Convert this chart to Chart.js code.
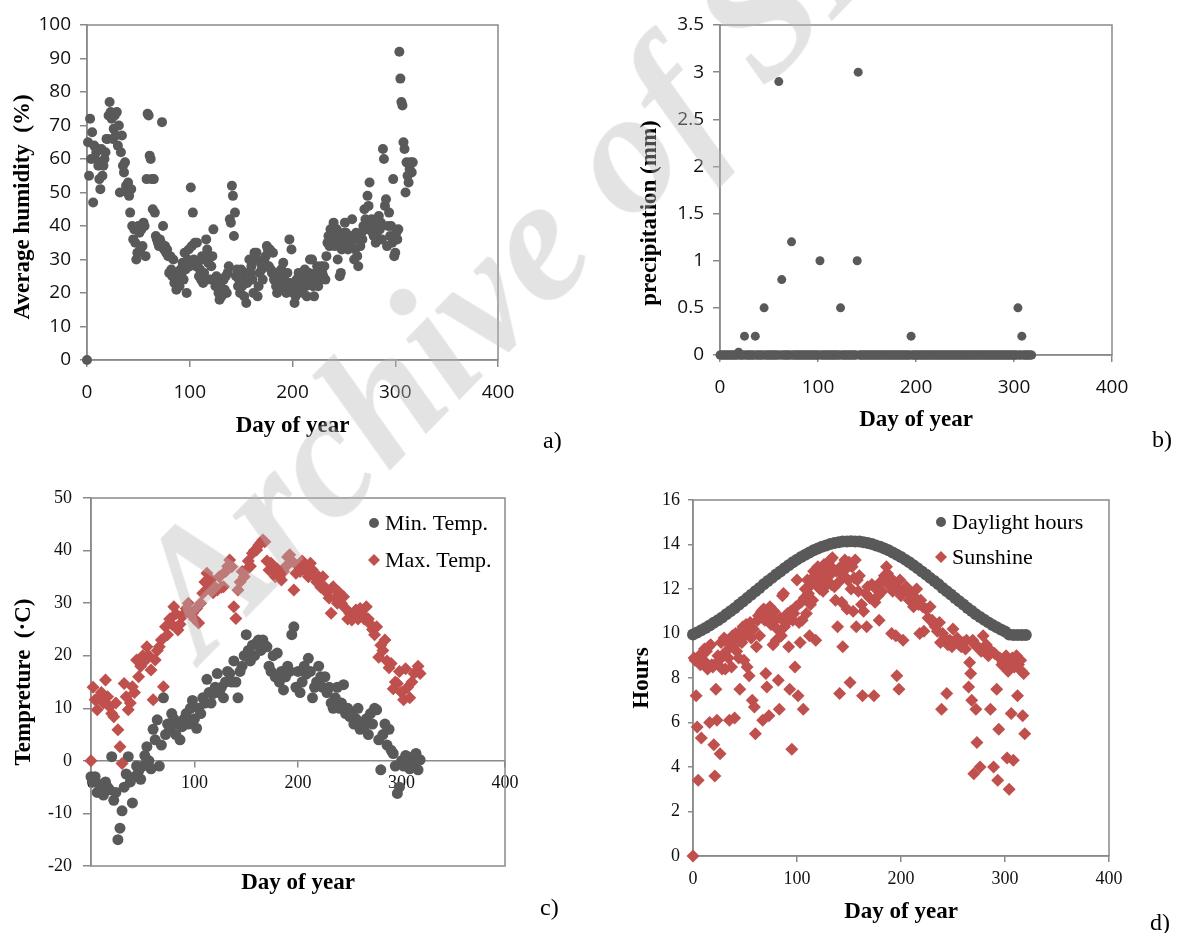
<!DOCTYPE html>
<html>
<head>
<meta charset="utf-8">
<script src="https://cdn.jsdelivr.net/npm/chart.js@4.4.0/dist/chart.umd.min.js"></script>
<style>
  body { margin: 0; background: #fff; width: 1177px; height: 933px; position: relative; overflow: hidden; }
  canvas { position: absolute; }
  .tag { position: absolute; font: 24px "Liberation Serif", serif; line-height: 1; color: #000; }
  #wm { position: absolute; left: 203px; top: 662px; font: italic bold 176px "Liberation Serif", serif; line-height: 1;
        color: rgba(185, 185, 185, 0.4); white-space: nowrap; transform-origin: 0 0;
        transform: rotate(-45.5deg) translateY(-0.84em); pointer-events: none; }
</style>
</head>
<body>
<canvas id="ca" width="560" height="445" style="left:0;top:0"></canvas>
<canvas id="cb" width="560" height="440" style="left:600px;top:0"></canvas>
<canvas id="cc" width="560" height="440" style="left:0;top:470px"></canvas>
<canvas id="cd" width="557" height="463" style="left:620px;top:470px"></canvas>
<div class="tag" style="left:543px;top:428px">a)</div>
<div class="tag" style="left:1152px;top:427px">b)</div>
<div class="tag" style="left:540px;top:895px">c)</div>
<div class="tag" style="left:1150px;top:910px">d)</div>
<div id="wm">Archive of SID</div>
<script>
// a) average humidity, one reading per day from day 0
const humidity = [
  0, 65, 55, 72, 60, 68, 47, 64, 60, 62,
  63, 58, 54, 51, 63, 55, 58, 60, 62, 66,
  66, 73, 77, 74, 72, 66, 69, 73, 67, 74,
  64, 70, 50, 62, 67, 58, 56, 59, 52, 50,
  53, 49, 44, 51, 40, 36, 39, 35, 30, 32,
  40, 38, 33, 39, 34, 41, 40, 31, 54, 73.5,
  73, 61, 60, 54, 45, 54, 44, 37, 36, 35,
  34, 36, 35, 71, 40, 33, 34, 32, 33, 31,
  26, 31, 27, 25, 30, 23, 25, 21, 24, 26,
  22, 27, 25, 29, 24, 32, 27, 20, 30, 33,
  28, 51.5, 34, 44, 30, 35, 28, 35, 29, 25,
  27, 24, 31, 23, 26, 30, 36, 33, 29, 31,
  24, 28, 31, 39, 24, 22, 25, 22, 20, 18,
  23, 19, 21, 24, 21, 25, 20, 26, 28, 42,
  41, 52, 49, 37, 44, 25, 27, 22, 24, 20,
  27, 22, 24, 19, 26, 17, 23, 25, 30, 26,
  28, 24, 20, 32, 30, 32, 19, 22, 26, 29,
  27, 24, 30, 29, 31, 34, 33, 28, 33, 27,
  26, 32, 24, 26, 22, 20, 21, 25, 23, 27,
  21, 29, 24, 21, 20, 26, 23, 36, 23, 33,
  21, 20, 17, 19, 24, 22, 26, 21, 22, 25,
  20, 24, 27, 22, 19, 23, 26, 30, 25, 30,
  22, 19, 24, 26, 28, 22, 26, 24, 28, 26,
  25, 28, 24, 31, 35, 37, 34, 39, 36, 38,
  41, 34, 37, 39, 30, 36, 25, 26, 33, 35,
  38, 41, 38, 36, 33, 35, 37, 34, 42, 36,
  30, 33, 38, 31, 28, 36, 34, 38, 36, 40,
  45, 42, 39, 49, 46, 53, 40, 42, 38, 37,
  41, 35, 38, 40, 43, 39, 41, 36, 63, 60,
  46, 48, 34, 40, 44, 37, 40, 35, 54, 31,
  32, 38, 36, 39, 92, 84, 77, 76, 65, 63,
  50, 59, 55, 53, 57, 59, 56, 59
];

// b) precipitation (mm), one reading per day from day 0
const precip = [
  0, 0, 0, 0, 0, 0, 0, 0, 0, 0, 0, 0, 0, 0, 0, 0, 0, 0, 0, 0.03,
  0, 0, 0, 0, 0, 0.2, 0, 0, 0, 0, 0, 0, 0, 0, 0, 0, 0.2, 0, 0, 0,
  0, 0, 0, 0, 0, 0.5, 0, 0, 0, 0, 0, 0, 0, 0, 0, 0, 0, 0, 0, 0,
  2.9, 0, 0, 0.8, 0, 0, 0, 0, 0, 0, 0, 0, 0, 1.2, 0, 0, 0, 0, 0, 0,
  0, 0, 0, 0, 0, 0, 0, 0, 0, 0, 0, 0, 0, 0, 0, 0, 0, 0, 0, 0,
  0, 0, 1.0, 0, 0, 0, 0, 0, 0, 0, 0, 0, 0, 0, 0, 0, 0, 0, 0, 0,
  0, 0, 0, 0.5, 0, 0, 0, 0, 0, 0, 0, 0, 0, 0, 0, 0, 0, 0, 0, 0,
  1.0, 3.0, 0, 0, 0, 0, 0, 0, 0, 0, 0, 0, 0, 0, 0, 0, 0, 0, 0, 0,
  0, 0, 0, 0, 0, 0, 0, 0, 0, 0, 0, 0, 0, 0, 0, 0, 0, 0, 0, 0,
  0, 0, 0, 0, 0, 0, 0, 0, 0, 0, 0, 0, 0, 0, 0, 0.2, 0, 0, 0, 0,
  0, 0, 0, 0, 0, 0, 0, 0, 0, 0, 0, 0, 0, 0, 0, 0, 0, 0, 0, 0,
  0, 0, 0, 0, 0, 0, 0, 0, 0, 0, 0, 0, 0, 0, 0, 0, 0, 0, 0, 0,
  0, 0, 0, 0, 0, 0, 0, 0, 0, 0, 0, 0, 0, 0, 0, 0, 0, 0, 0, 0,
  0, 0, 0, 0, 0, 0, 0, 0, 0, 0, 0, 0, 0, 0, 0, 0, 0, 0, 0, 0,
  0, 0, 0, 0, 0, 0, 0, 0, 0, 0, 0, 0, 0, 0, 0, 0, 0, 0, 0, 0,
  0, 0, 0, 0, 0.5, 0, 0, 0, 0.2, 0, 0, 0, 0, 0, 0, 0, 0, 0, 0
];

// c) temperatures, one reading every TEMP_STEP days from day 0
const TEMP_STEP = 2;
const minTemp = [
  -3, -4, -3, -6, -4.5, -5, -6.5, -4, -5, -5.5,
  0.8, -7.5, -6, -15, -12.8, -9.5, -5, -2.5, 0.8, -4,
  -8, -3, -1, -2, -3.5, -1, 1, 2.7, 0, -1.5,
  6, 4, 7.8, -1, 3, 12, 5, 7, 6, 9,
  8, 5, 7, 4, 6.5, 8, 9, 7, 10, 11.5,
  8, 6.2, 10, 9, 12, 11, 15.5, 13, 11, 12.8,
  14, 16.6, 13, 14, 12, 15, 17, 16.6, 15, 19,
  15, 12, 17, 18, 20, 24, 21, 19, 22, 20,
  22.5, 23, 21, 23, 22, 21.7, 18, 17, 20, 16,
  20.5, 15, 17, 13.5, 16, 18, 17, 24, 25.5, 14,
  17, 13, 15, 18, 16.5, 19.5, 17, 12, 14, 15,
  18, 16, 14, 16, 13, 14, 11, 10, 12, 14,
  10, 11, 14.5, 9, 10, 8.4, 9, 7, 8, 10,
  6, 7, 6.5, 8, 5, 9, 7, 10, 9.7, 4,
  -1.7, 5, 7, 3, 6, 2, 1.4, -1, -6.2, -5,
  0, -1, 1, 0.8, -1.5, 0.2, -0.5, 1.4, -1.7, 0.2
];
const maxTemp = [
  0, 14, 11.6, 9.7, 12, 13, 11, 15.4, 12.2, 10.3,
  9, 8.4, 11, 5.9, 2.7, -0.5, 14.7, 12.2, 9.7, 11,
  14.1, 13, 19.2, 16, 18, 20, 19, 21.7, 20, 17.3,
  11.6, 19.2, 21, 21.7, 23, 14.1, 25.5, 24, 27, 26,
  29.3, 28, 24.9, 26, 27.4, 28, 29, 30, 28, 28.1,
  27, 29, 26.2, 30, 31.9, 34, 35.7, 33, 34.5, 32,
  33, 32.5, 35, 33, 33.1, 36, 37, 38.2, 36.9, 29.3,
  27.1, 32.5, 34, 36, 35, 36.3, 38, 37, 39.5, 40,
  40.1, 41, 41.5, 42, 41.7, 38, 36.3, 37.6, 36, 35,
  36.5, 35, 34.4, 36, 36.9, 38.8, 39.2, 38, 32.5, 35.7,
  37, 36, 38, 37.6, 36, 35, 37.6, 36.3, 35, 34,
  35, 33, 35, 33, 32, 31, 28.1, 33.1, 31, 30,
  32, 30, 31.2, 29, 27, 28.1, 26.8, 28, 28.7, 27,
  29, 28, 27, 29.3, 27, 26, 25, 24, 25.5, 19.7,
  22, 21, 23, 19, 17.7, 18.5, 13.7, 15, 14.7, 17,
  13, 11.6, 17.5, 14, 12, 15, 16.6, 17, 18, 16.6
];

// d) daylight hours, one reading every DAYLIGHT_STEP days from day 0
const DAYLIGHT_STEP = 4;
const daylight = [
  9.95, 10.05, 10.15, 10.25, 10.36, 10.48, 10.6, 10.72, 10.86, 11.0,
  11.14, 11.29, 11.44, 11.59, 11.74, 11.9, 12.05, 12.21, 12.36, 12.5,
  12.65, 12.79, 12.93, 13.07, 13.2, 13.32, 13.44, 13.54, 13.64, 13.74,
  13.82, 13.9, 13.96, 14.02, 14.07, 14.1, 14.13, 14.14, 14.15, 14.14,
  14.13, 14.1, 14.07, 14.02, 13.96, 13.9, 13.82, 13.74, 13.64, 13.54,
  13.44, 13.32, 13.2, 13.07, 12.93, 12.79, 12.65, 12.5, 12.36, 12.21,
  12.05, 11.9, 11.75, 11.6, 11.45, 11.3, 11.15, 11.01, 10.87, 10.74,
  10.62, 10.5, 10.38, 10.28, 10.18, 10.09, 9.95, 9.93, 9.93, 9.93, 9.93
];
// d) sunshine hours as [day, hours]
const sunshine = [
  [0,0],[1,8.9],[2,8.8],[3,7.2],[4,5.8],[5,3.4],[6,9.0],[7,8.6],[8,5.3],[9,9.1],
  [10,8.8],[11,9.3],[12,8.7],[13,9.2],[14,8.4],[15,9.4],[16,6.0],[17,9.5],[18,8.6],[19,8.5],
  [20,5.0],[21,3.6],[22,7.5],[23,6.1],[24,9.0],[25,8.8],[26,4.6],[27,9.6],[28,8.4],[29,9.0],
  [30,9.8],[31,8.4],[32,9.2],[33,9.6],[34,8.9],[35,6.1],[36,9.7],[37,8.5],[38,9.9],[39,9.4],
  [40,6.2],[41,10.0],[42,9.2],[43,9.8],[44,8.9],[45,7.5],[46,10.1],[47,9.6],[48,10.3],[49,8.8],
  [50,9.9],[51,10.4],[52,8.5],[53,10.0],[54,8.1],[55,10.5],[56,9.8],[57,7.0],[58,10.2],[59,6.7],
  [60,5.5],[61,9.4],[62,10.6],[63,10.8],[64,9.9],[65,10.9],[66,11.0],[67,6.1],[68,11.1],[69,10.6],
  [70,8.2],[71,7.6],[72,10.8],[73,6.3],[74,11.2],[75,10.4],[76,10.9],[77,9.5],[78,11.0],[79,10.6],
  [80,9.7],[81,10.2],[82,7.9],[83,6.6],[84,10.7],[85,9.9],[86,11.7],[87,11.8],[88,10.3],[89,10.8],
  [90,10.5],[91,10.9],[92,9.4],[93,7.5],[94,11.0],[95,4.8],[96,10.6],[97,10.9],[98,8.5],[99,11.2],
  [100,12.4],[101,7.2],[102,10.5],[103,9.6],[104,11.4],[105,10.6],[106,6.6],[107,11.6],[108,12.0],[109,10.9],
  [110,12.4],[111,11.8],[112,9.9],[113,11.3],[114,12.2],[115,11.5],[116,12.8],[117,12.6],[118,9.7],[119,12.2],
  [120,13.0],[121,12.7],[122,12.0],[123,12.4],[124,12.9],[125,11.9],[126,13.1],[127,12.5],[128,12.8],[129,12.2],
  [130,13.2],[131,12.6],[132,13.3],[133,12.2],[134,13.4],[135,12.9],[136,12.1],[137,11.5],[138,12.8],[139,10.3],
  [140,12.3],[141,7.3],[142,13.0],[143,11.4],[144,9.4],[145,12.6],[146,13.3],[147,12.9],[148,11.1],[149,12.4],
  [150,13.2],[151,7.8],[152,12.0],[153,13.0],[154,11.0],[155,12.5],[156,13.3],[157,10.3],[158,12.4],[159,11.9],
  [160,12.6],[162,11.3],[163,7.2],[164,11.0],[166,11.8],[167,10.3],[168,12.1],[170,11.6],[172,12.2],[174,7.2],
  [175,11.4],[176,12.0],[178,11.7],[179,10.6],[180,12.3],[182,11.9],[184,12.6],[186,13.0],[187,12.7],[188,12.2],
  [190,12.5],[191,10.0],[192,11.9],[194,12.3],[195,9.9],[196,8.1],[197,12.0],[198,7.5],[199,12.4],[200,11.7],
  [202,9.7],[204,11.9],[205,12.1],[206,12.0],[208,11.5],[210,11.8],[212,11.2],[214,11.6],[215,12.0],[217,11.3],
  [218,10.0],[219,11.5],[221,11.2],[222,10.1],[224,11.1],[226,10.7],[228,11.2],[230,10.6],[232,10.4],[233,10.3],
  [235,10.1],[237,10.5],[238,9.6],[239,6.6],[240,10.0],[242,9.8],[244,7.3],[245,9.5],[247,9.7],[249,9.4],
  [250,10.2],[252,9.6],[254,9.8],[256,9.5],[258,9.4],[260,9.6],[262,9.3],[263,9.7],[265,7.6],[266,8.7],
  [267,8.2],[268,7.0],[269,9.7],[270,3.7],[271,9.5],[272,6.6],[273,5.1],[274,9.4],[276,4.0],[277,9.2],
  [279,9.9],[280,9.3],[282,9.5],[284,9.0],[286,6.6],[287,9.2],[289,4.0],[290,9.1],[292,7.5],[293,3.4],
  [294,5.7],[295,8.9],[297,8.6],[298,8.7],[300,8.5],[301,9.0],[302,4.4],[303,8.3],[304,3.0],[305,8.7],
  [306,6.4],[307,8.9],[308,4.3],[309,8.5],[311,9.0],[312,7.2],[313,8.6],[315,8.8],[316,8.3],[317,6.3],
  [318,8.2],[319,5.5]
];

const GRAY = '#595959';
const RED = '#C0504D';
const AXIS = '#8a8a8a';
const SANS = {family: 'Open Sans', size: 19};
const SERIF = {family: 'Liberation Serif', size: 18};
const TITLE = {family: 'Liberation Serif', size: 23, weight: 'bold'};

// box round the plot area
const frame = {
  id: 'frame',
  beforeDatasetsDraw(chart) {
    const {ctx, chartArea: a} = chart;
    ctx.save();
    ctx.strokeStyle = AXIS;
    ctx.lineWidth = 1.5;
    ctx.strokeRect(a.left, a.top, a.right - a.left, a.bottom - a.top);
    ctx.restore();
  }
};

// legend drawn inside the plot, top right
const inLegend = {
  id: 'inLegend',
  afterDraw(chart, args, opts) {
    if (!opts.show) return;
    const {ctx, chartArea: a} = chart;
    ctx.save();
    ctx.font = '22px "Liberation Serif", serif';
    ctx.textBaseline = 'middle';
    chart.data.datasets.forEach((ds, i) => {
      const x = a.right - opts.right;
      const y = a.top + opts.top + i * opts.gap;
      ctx.fillStyle = ds.backgroundColor;
      ctx.beginPath();
      if (ds.pointStyle === 'rectRot') {
        ctx.moveTo(x, y - 6); ctx.lineTo(x + 6, y); ctx.lineTo(x, y + 6); ctx.lineTo(x - 6, y);
      } else {
        ctx.arc(x, y, 5, 0, Math.PI * 2);
      }
      ctx.closePath();
      ctx.fill();
      ctx.fillStyle = '#000';
      ctx.fillText(ds.label, x + 11, y + 1);
    });
    ctx.restore();
  }
};

function xScale(o) {
  return {
    type: 'linear', min: 0, max: 400, position: o.position || 'bottom',
    afterFit: s => { if (o.h) s.height = o.h; },
    ticks: {stepSize: 100, padding: o.pad, color: '#111', font: o.font, maxRotation: 0},
    grid: {drawOnChartArea: false, tickLength: o.tick, color: AXIS, lineWidth: 1.5},
    border: {color: AXIS, width: 1.5},
    title: {display: !!o.title, text: o.title || '', color: '#000', font: TITLE, padding: {top: 0, bottom: o.tb || 0}}
  };
}

function yScale(o) {
  return {
    min: o.min, max: o.max,
    afterFit: s => { s.width = o.w; },
    ticks: {stepSize: o.step, padding: o.pad, color: '#111', font: o.font, callback: v => String(v)},
    grid: {drawOnChartArea: false, tickLength: o.tick, color: AXIS, lineWidth: 1.5},
    border: {color: AXIS, width: 1.5},
    title: {display: true, text: o.title, color: '#000', font: TITLE, padding: {top: o.tp, bottom: 0}}
  };
}

function dots(label, data, color, style, r, order) {
  return {
    label, data, order,
    backgroundColor: color, borderWidth: 0,
    pointStyle: style, pointRadius: r, pointHoverRadius: r,
    showLine: false, clip: false
  };
}

function panel(id, padding, datasets, scales, legend) {
  new Chart(document.getElementById(id), {
    type: 'scatter',
    data: {datasets},
    options: {
      responsive: false, animation: false, events: [],
      layout: {padding},
      plugins: {legend: {display: false}, tooltip: {enabled: false}, inLegend: legend || {show: false}},
      scales
    },
    plugins: [frame, inLegend]
  });
}

// a) humidity (trailing spaces sit the title a little lower, as in the original)
panel('ca', {left: 0, top: 25, right: 62, bottom: 0},
  [dots('Average humidity', humidity.map((v, i) => ({x: i, y: v})), GRAY, 'circle', 5, 0)],
  {
    x: xScale({h: 85, pad: 14, tick: 7, font: SANS, title: 'Day of year', tb: 5}),
    y: yScale({min: 0, max: 100, step: 10, w: 87, pad: 9, tick: 7, font: SANS, title: 'Average humidity  (%)     ', tp: 9})
  });

// b) precipitation
panel('cb', {left: 0, top: 25, right: 48, bottom: 0},
  [dots('precipitation', precip.map((v, i) => ({x: i, y: v})), GRAY, 'circle', 4.5, 0)],
  {
    x: xScale({h: 85, pad: 14, tick: 7, font: SANS, title: 'Day of year', tb: 6}),
    y: yScale({min: 0, max: 3.5, step: 0.5, w: 120, pad: 9, tick: 7, font: SANS, title: 'precipitation (mm)        ', tp: 36})
  });

// c) temperature, x axis crosses at 0
panel('cc', {left: 0, top: 28, right: 55, bottom: 0},
  [
    dots('Min. Temp.', minTemp.map((v, i) => ({x: i * TEMP_STEP, y: v})), GRAY, 'circle', 5.5, 1),
    dots('Max. Temp.', maxTemp.map((v, i) => ({x: i * TEMP_STEP, y: v})), RED, 'rectRot', 6.5, 0)
  ],
  {
    x: xScale({position: {y: 0}, pad: 6, tick: 6, font: SERIF}),
    x2: {
      type: 'linear', min: 0, max: 400, position: 'bottom',
      afterFit: s => { s.height = 44; },
      ticks: {display: false}, grid: {display: false}, border: {display: false},
      title: {display: true, text: 'Day of year', color: '#000', font: TITLE, padding: {top: 0, bottom: 13}}
    },
    y: yScale({min: -20, max: 50, step: 10, w: 91, pad: 11, tick: 8, font: SERIF, title: 'Tempreture  (·C)', tp: 10})
  },
  {show: true, right: 131, top: 25, gap: 37});

// d) hours
panel('cd', {left: 0, top: 30, right: 68, bottom: 0},
  [
    dots('Daylight hours', daylight.map((v, i) => ({x: i * DAYLIGHT_STEP, y: v})), GRAY, 'circle', 6, 1),
    dots('Sunshine', sunshine.map(([d, h]) => ({x: d, y: h})), RED, 'rectRot', 6.5, 0)
  ],
  {
    x: xScale({h: 77, pad: 6, tick: 6, font: SERIF, title: 'Day of year', tb: 7}),
    y: yScale({min: 0, max: 16, step: 2, w: 73, pad: 8, tick: 5, font: SERIF, title: 'Hours', tp: 8})
  },
  {show: true, right: 168, top: 22, gap: 35});
</script>
</body>
</html>
